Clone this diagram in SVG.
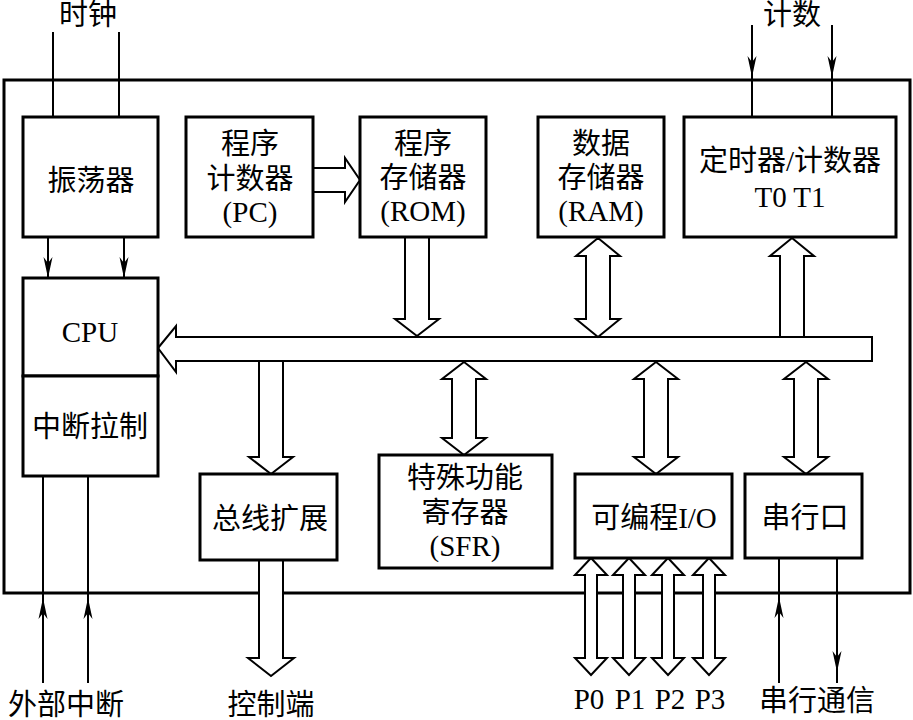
<svg xmlns="http://www.w3.org/2000/svg" width="913" height="720" viewBox="0 0 913 720">
<defs>
<style>
text{font-family:"Liberation Serif","Noto Sans CJK SC",serif;font-size:29px;fill:#000;text-anchor:middle;dominant-baseline:central}
.box{fill:#fff;stroke:#000;stroke-width:3}
.outer{fill:#fff;stroke:#000;stroke-width:3}
.fat{fill:#fff;stroke:#000;stroke-width:2;stroke-linejoin:miter}
.thin{fill:none;stroke:#000;stroke-width:2}
.ah{marker-mid:url(#ah)}
.ae{marker-end:url(#ah)}
</style>
<marker id="ah" viewBox="-22 -6 24 12" refX="0" refY="0" markerWidth="24" markerHeight="12" markerUnits="userSpaceOnUse" orient="auto">
<path d="M0,0 L-21,-4.5 L-15,0 L-21,4.5 Z" fill="#000"/>
</marker>
</defs>
<rect width="913" height="720" fill="#fff"/>
<rect id="chip" class="outer" x="4" y="80" width="906" height="513"/>

<g id="connectors">
<path class="thin" d="M53,32 V117 M119,32 V117"/>
<path class="thin ae" d="M48,237 V278"/>
<path class="thin ae" d="M124,237 V278"/>
<path class="thin ah" d="M752,25 L752,77 L752,117"/>
<path class="thin ah" d="M832,25 L832,77 L832,117"/>
<path class="thin ah" d="M43,683 L43,598 L43,476"/>
<path class="thin ah" d="M88,683 L88,598 L88,476"/>
<path class="thin ah" d="M779,683 L779,597 L779,558"/>
<path class="thin ah" d="M837,558 L837,672 L837,683"/>
<!-- bus -->
<polygon class="fat" points="158,348 176,326 176,337 872,337 872,361 176,361 176,372"/>
<!-- PC to ROM -->
<polygon class="fat" points="313,168 345,168 345,158 360,180 345,202 345,192 313,192"/>
<!-- ROM to bus -->
<polygon class="fat" points="405,237 405,319 395,319 417,336 439,319 429,319 429,237"/>
<!-- RAM <-> bus -->
<polygon class="fat" points="598,238 620,256 610,256 610,319 620,319 598,337 576,319 586,319 586,256 576,256"/>
<!-- bus to timer -->
<polygon class="fat" points="780,337 780,256 770,256 792,238 814,256 804,256 804,337"/>
<!-- bus to bus expansion -->
<polygon class="fat" points="259,361 259,457 249,457 271,474 293,457 283,457 283,361"/>
<!-- bus expansion to control -->
<polygon class="fat" points="259,560 259,658 248,658 271,676 294,658 283,658 283,560"/>
<!-- SFR -->
<polygon class="fat" points="464,362 486,379 476,379 476,438 486,438 464,455 442,438 452,438 452,379 442,379"/>
<!-- IO -->
<polygon class="fat" points="656,362 678,379 668,379 668,457 678,457 656,474 634,457 644,457 644,379 634,379"/>
<!-- serial -->
<polygon class="fat" points="806,362 828,379 818,379 818,457 828,457 806,474 784,457 794,457 794,379 784,379"/>
<!-- P0..P3 -->
<polygon class="fat" points="591,558 607,575 597,575 597,658 607,658 591,675 575,658 585,658 585,575 575,575"/>
<polygon class="fat" points="629,558 645,575 635,575 635,658 645,658 629,675 613,658 623,658 623,575 613,575"/>
<polygon class="fat" points="668,558 684,575 674,575 674,658 684,658 668,675 652,658 662,658 662,575 652,575"/>
<polygon class="fat" points="709,558 725,575 715,575 715,658 725,658 709,675 693,658 703,658 703,575 693,575"/>
</g>

<g id="osc"><rect class="box" x="23" y="117" width="135" height="120"/><text x="91" y="181">振荡器</text></g>
<g id="pc"><rect class="box" x="186" y="117" width="127" height="120"/><text x="250" y="144">程序</text><text x="250" y="179">计数器</text><text x="250" y="212">(PC)</text></g>
<g id="rom"><rect class="box" x="360" y="117" width="126" height="120"/><text x="423" y="144">程序</text><text x="423" y="178">存储器</text><text x="423" y="211">(ROM)</text></g>
<g id="ram"><rect class="box" x="538" y="117" width="126" height="120"/><text x="601" y="144">数据</text><text x="601" y="178">存储器</text><text x="601" y="211">(RAM)</text></g>
<g id="timer"><rect class="box" x="684" y="117" width="212" height="120"/><text x="790" y="161">定时器/计数器</text><text x="790" y="197">T0 T1</text></g>
<g id="cpu"><rect class="box" x="23" y="278" width="135" height="98"/><text x="90" y="332">CPU</text></g>
<g id="int"><rect class="box" x="23" y="376" width="135" height="100"/><text x="90" y="427">中断拉制</text></g>
<g id="busext"><rect class="box" x="200" y="474" width="137" height="86"/><text x="270" y="519">总线扩展</text></g>
<g id="sfr"><rect class="box" x="379" y="455" width="173" height="113"/><text x="465" y="478">特殊功能</text><text x="465" y="513">寄存器</text><text x="465" y="546">(SFR)</text></g>
<g id="io"><rect class="box" x="575" y="474" width="157" height="84"/><text x="654" y="518">可编程I/O</text></g>
<g id="serial"><rect class="box" x="745" y="474" width="117" height="84"/><text x="805" y="518">串行口</text></g>

<g id="labels">
<text x="88" y="15">时钟</text>
<text x="792" y="15">计数</text>
<text x="66" y="705">外部中断</text>
<text x="271" y="705">控制端</text>
<text x="589" y="699">P0</text>
<text x="630" y="699">P1</text>
<text x="670" y="699">P2</text>
<text x="710" y="699">P3</text>
<text x="817" y="701">串行通信</text>
</g>
</svg>
